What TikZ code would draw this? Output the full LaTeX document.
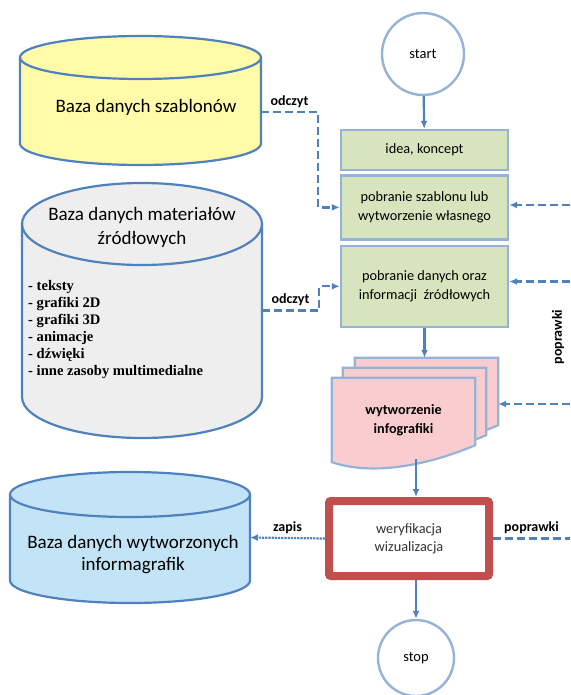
\documentclass[tikz,border=0pt]{standalone}
\usepackage{fontspec}
\setmainfont{Carlito}
\newfontfamily\tms{Liberation Serif}
\usetikzlibrary{shapes.geometric,positioning,shadows,arrows.meta}

\definecolor{ln}{HTML}{4F81BD}
\definecolor{lb}{HTML}{95B3D7}
\definecolor{yl}{HTML}{FFFBA8}
\definecolor{gy}{HTML}{EEEEEE}
\definecolor{sk}{HTML}{C2E4F6}
\definecolor{ol}{HTML}{D7E4BD}
\definecolor{pk}{HTML}{F9CDD0}
\definecolor{rd}{HTML}{C0504D}

\tikzset{db/.style n args={3}{rectangle, inner sep=0pt, outer sep=-2pt, minimum width=2*#1+4pt,
	path picture={
		\filldraw [draw=ln, fill=#3, line width=2.2pt]
			([shift={(2pt,-2pt-#2)}]path picture bounding box.north west)
			-- ([shift={(2pt,2pt+#2)}]path picture bounding box.south west)
			arc [start angle=180, end angle=360, x radius=#1, y radius=#2]
			-- ([shift={(-2pt,-2pt-#2)}]path picture bounding box.north east)
			arc [start angle=0, end angle=180, x radius=#1, y radius=#2] -- cycle;
		\draw [draw=ln, line width=2.2pt] ([shift={(2pt,-2pt-#2)}]path picture bounding box.north west)
			arc [start angle=180, end angle=360, x radius=#1, y radius=#2];
	}}}
\tikzstyle{dbt} = [align=center, font=\fontsize{19}{22}\selectfont]
\tikzstyle{g} = [rectangle, draw=lb, fill=ol, line width=2.4pt, minimum width=167pt, align=center, font=\fontsize{14.3}{19}\selectfont]
\tikzstyle{t} = [circle, draw=lb, fill=white, line width=2.4pt, font=\fontsize{14.5}{16}\selectfont]
\tikzstyle{d} = [rectangle, minimum width=143pt, minimum height=84pt, inner sep=0pt]
\tikzstyle{v} = [rectangle, draw=rd, fill=white, line width=8pt, rounded corners=2pt, minimum width=160pt, minimum height=75pt, align=center, text=black!80, font=\fontsize{14.3}{18}\selectfont, drop shadow={shadow xshift=2pt, shadow yshift=-2pt, opacity=.35}]
\tikzstyle{dl} = [draw=ln, line width=2.2pt, dash pattern=on 8pt off 4pt]
\tikzstyle{sl} = [draw=ln, line width=2.2pt]
\tikzstyle{u} = [midway, above, font=\bfseries\fontsize{14}{16}\selectfont, text=black]

\newcommand\docpath[1]{\filldraw[fill=pk, draw=lb, line width=2.2pt] (#1.north west) -- (#1.north east) -- ([yshift=17pt]#1.south east) .. controls +(-35pt,-15pt) and +(48pt,-16pt) .. (#1.south west) -- cycle;}

\begin{document}
\begin{tikzpicture}[x=1pt, y=-1pt, >={Latex[length=8pt,width=7pt]}]
	\useasboundingbox (0,0) rectangle (570,695);

	\node [db={120.5pt}{21.5pt}{yl}, minimum height=133pt] (szb) at (140.5,100.5) {};
	\node [dbt] (szbt) at (146,107) {Baza danych szablonów};
	\node [db={120pt}{41pt}{gy}, minimum height=259pt] (mat) at (142,310.5) {};
	\node [dbt, font=\fontsize{19}{24}\selectfont] (matt) at (142,227) {Baza danych materiałów\\źródłowych};
	\node [anchor=north west, align=left, inner sep=0pt, font=\tms\bfseries\fontsize{14.6}{17}\selectfont] (matl) at (28,280) {- teksty\\- grafiki 2D\\- grafiki 3D\\- animacje\\- dźwięki\\- inne zasoby multimedialne};
	\node [db={120pt}{22.5pt}{sk}, minimum height=135pt] (inf) at (130,537.5) {};
	\node [dbt] (inft) at (133,555) {Baza danych wytworzonych\\informagrafik};

	\node [t, minimum size=82pt] (start) at (423,54) {start};
	\node [g, minimum height=40pt] (idea) at (424.5,150) {idea, koncept};
	\node [g, minimum height=64pt, below=3pt of idea] (szab) {pobranie szablonu lub\\wytworzenie własnego};
	\node [g, minimum height=81pt, below=4pt of szab] (dane) {pobranie danych oraz\\informacji~ źródłowych};

	\node [d] (d3) at (426.5,400) {};
	\node [d] (d2) at (414.5,410) {};
	\node [d] (d1) at (403.5,420) {};
	\docpath{d3}
	\docpath{d2}
	\docpath{d1}
	\node [font=\bfseries\fontsize{14.2}{19}\selectfont, align=center] (dt) at (d1) {wytworzenie\\infografiki};

	\node [v] (wer) at (409,538.5) {weryfikacja\\wizualizacja};
	\node [t, minimum size=76pt] (stop) at (416,658) {stop};

	\coordinate (e1) at (570,205);
	\coordinate (e2) at (570,281.5);
	\coordinate (e3) at (570,404);
	\coordinate (e4) at (570,538.5);
	\node [rotate=90, font=\bfseries\fontsize{14}{16}\selectfont] (pop) at (558,337) {poprawki};

	\draw [sl, ->] (start) -- (idea);
	\draw [sl, ->] (dane.south) -- (dane.south |- d3.north);
	\draw [sl, ->] ([yshift=3pt]d1.south -| stop) -- (wer.north -| stop);
	\draw [sl, ->] (wer.south -| stop) -- (stop);

	\draw [dl, ->] ([yshift=-11.5pt]szb.east) -- ++(57,0) node [u] {odczyt} |- (szab.west);
	\draw [dl, ->] (mat.east) -- ++(57,0) node [u] {odczyt} |- (dane.west);

	\draw [dl, ->] (e1) -- (e1 -| szab.east);
	\draw [dl, ->] (e2) -- (e2 -| dane.east);
	\draw [dl, ->] (e3) -- (e3 -| d3.east);
	\draw [dl] (wer.east) -- (e4) node [u] {poprawki};
	\draw [sl, densely dotted, ->] (wer.west) -- (inf.east) node [u] {zapis};

\end{tikzpicture}
\end{document}
